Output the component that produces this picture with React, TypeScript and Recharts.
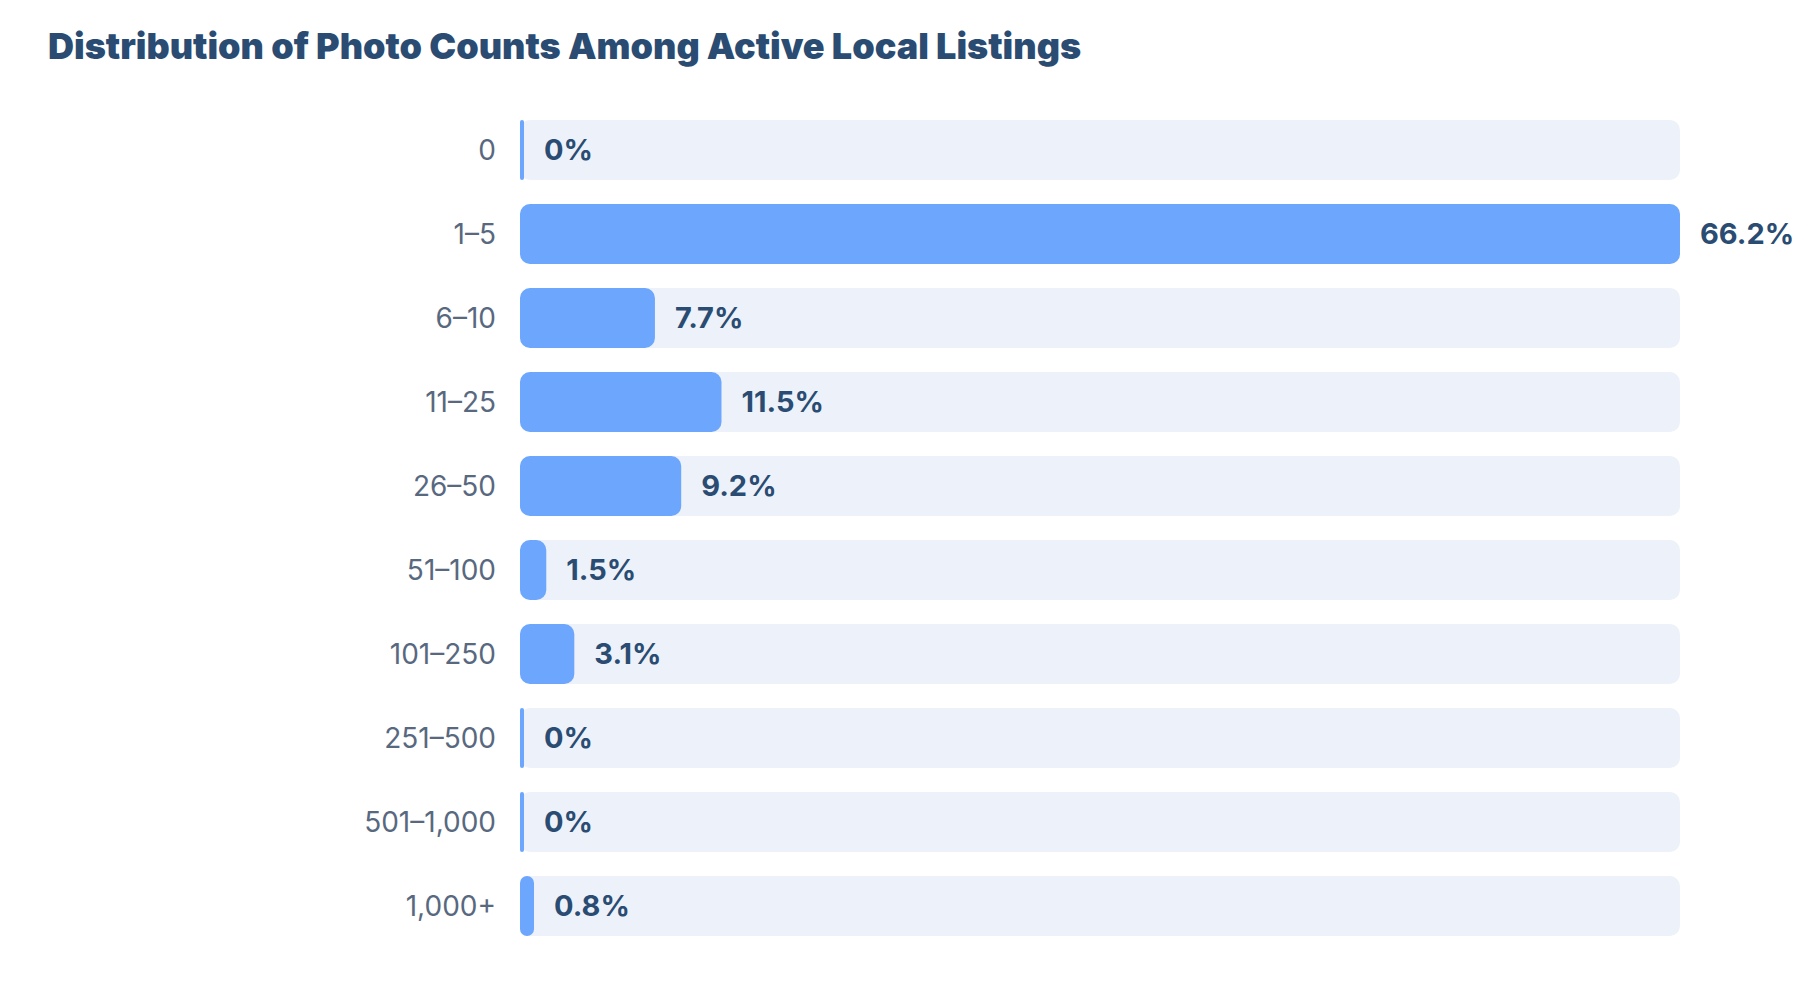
import { Bar, BarChart, LabelList, XAxis, YAxis } from "recharts";

const buckets = [
  "0",
  "1–5",
  "6–10",
  "11–25",
  "26–50",
  "51–100",
  "101–250",
  "251–500",
  "501–1,000",
  "1,000+",
];
const shares = [0, 66.2, 7.7, 11.5, 9.2, 1.5, 3.1, 0, 0, 0.8];

const data = buckets.map((bucket, i) => ({ bucket, share: shares[i] }));

const FONT = "Inter, 'Noto Sans', sans-serif";

export default function App() {
  return (
    <div
      style={{
        position: "absolute",
        left: 0,
        top: 0,
        width: 1800,
        height: 992,
        background: "#ffffff",
        fontFamily: FONT,
      }}
    >
      <div
        style={{
          position: "absolute",
          left: 48,
          top: 28,
          fontSize: 36,
          lineHeight: "37px",
          fontWeight: 900,
          letterSpacing: 0,
          color: "#2a4c72",
          whiteSpace: "nowrap",
        }}
      >
        Distribution of Photo Counts Among Active Local Listings
      </div>
      <BarChart
        width={1800}
        height={992}
        data={data}
        layout="vertical"
        margin={{ top: 108, right: 120, bottom: 44, left: 0 }}
        barSize={60}
      >
        <XAxis type="number" dataKey="share" domain={[0, "dataMax"]} hide />
        <YAxis
          type="category"
          dataKey="bucket"
          width={520}
          axisLine={false}
          tickLine={false}
          tickSize={0}
          tickMargin={24}
          tick={{ fill: "#58697f", fontSize: 28, fontFamily: FONT }}
        />
        <Bar
          dataKey="share"
          fill="#6ca6fd"
          radius={10}
          minPointSize={4}
          background={{ fill: "#edf2fa", radius: 10 }}
          isAnimationActive={false}
        >
          <LabelList
            dataKey="share"
            position="right"
            offset={20}
            formatter={(v: any) => `${v}%`}
            style={{
              fill: "#2a4c72",
              fontSize: 29,
              fontWeight: 700,
              fontFamily: FONT,
            }}
          />
        </Bar>
      </BarChart>
    </div>
  );
}
